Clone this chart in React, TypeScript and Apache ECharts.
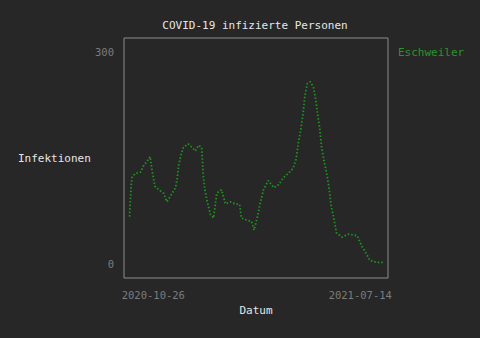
import React, { useEffect, useRef } from "react";
import * as echarts from "echarts";

const title = "COVID-19 infizierte Personen";
const seriesName = "Eschweiler";
const yAxisName = "Infektionen";
const xAxisName = "Datum";
const xTickLabels = ["2020-10-26", "2021-07-14"];
const yTickValues = [0, 300];

const dates = [
  "2020-09-26", "2020-09-27", "2020-09-28", "2020-09-29", "2020-10-03", "2020-10-10",
  "2020-10-14", "2020-10-18", "2020-10-22", "2020-10-24", "2020-10-28", "2020-11-02",
  "2020-11-08", "2020-11-12", "2020-11-16", "2020-11-23", "2020-11-25", "2020-11-27",
  "2020-11-30", "2020-12-03", "2020-12-09", "2020-12-14", "2020-12-18", "2020-12-22",
  "2020-12-26", "2020-12-27", "2020-12-28", "2020-12-30", "2021-01-02", "2021-01-06",
  "2021-01-10", "2021-01-14", "2021-01-20", "2021-01-25", "2021-01-31", "2021-02-06",
  "2021-02-12", "2021-02-14", "2021-02-21", "2021-02-27", "2021-03-02", "2021-03-06",
  "2021-03-10", "2021-03-14", "2021-03-20", "2021-03-27", "2021-04-02", "2021-04-08",
  "2021-04-14", "2021-04-20", "2021-04-24", "2021-04-27", "2021-04-30", "2021-05-03",
  "2021-05-05", "2021-05-08", "2021-05-12", "2021-05-16", "2021-05-19", "2021-05-21",
  "2021-05-24", "2021-05-26", "2021-05-29", "2021-06-02", "2021-06-05", "2021-06-07",
  "2021-06-11", "2021-06-14", "2021-06-21", "2021-06-29", "2021-07-10", "2021-07-16",
  "2021-07-20", "2021-07-26", "2021-08-04", "2021-08-12",
];

const infections = [
  67, 90, 110, 122, 128, 130,
  140, 145, 152, 135, 110, 105,
  100, 88, 95, 108, 120, 140,
  155, 165, 170, 165, 160, 168,
  165, 145, 125, 105, 88, 70,
  65, 100, 105, 85, 88, 85,
  84, 65, 62, 60, 48, 65,
  87, 105, 118, 108, 112, 122,
  128, 135, 148, 172, 190, 214,
  236, 255, 258, 250, 232, 214,
  191, 167, 148, 126, 105, 84,
  63, 44, 38, 42, 40, 25,
  18, 5, 2, 2,
];

const ts = (s: string) => new Date(s + "T00:00:00").getTime();
const pad = (n: number) => (n < 10 ? "0" + n : "" + n);
const fmt = (v: number) => {
  const d = new Date(v);
  return d.getFullYear() + "-" + pad(d.getMonth() + 1) + "-" + pad(d.getDate());
};

const FONT = "DejaVu Sans Mono";

export default function App() {
  const ref = useRef<HTMLDivElement>(null);
  useEffect(() => {
    if (!ref.current) return;
    const chart = echarts.init(ref.current, undefined, { renderer: "svg" });
    chart.setOption({
      animation: false,
      backgroundColor: "#272727",
      title: {
        text: title,
        left: 250,
        textAlign: "center",
        top: 15,
        textStyle: { color: "#e6e6e6", fontFamily: FONT, fontSize: 11, fontWeight: "normal" },
      },
      grid: {
        left: 124,
        right: 92,
        top: 38,
        bottom: 60,
        show: true,
        borderColor: "#8c8c8c",
        borderWidth: 1,
        backgroundColor: "transparent",
      },
      xAxis: {
        type: "value",
        min: ts("2020-09-19"),
        max: ts("2021-08-18"),
        name: xAxisName,
        nameLocation: "middle",
        nameGap: 26,
        nameTextStyle: { color: "#e6e6e6", fontFamily: FONT, fontSize: 11 },
        axisLine: { show: false },
        axisTick: { show: false },
        splitLine: { show: false },
        axisLabel: {
          customValues: xTickLabels.map(ts),
          formatter: (v: number) => fmt(v),
          color: "#7c7c7c",
          fontFamily: FONT,
          fontSize: 10.5,
          margin: 11,
        },
      },
      yAxis: {
        type: "value",
        min: -20,
        max: 320,
        axisLine: { show: false },
        axisTick: { show: false },
        splitLine: { show: false },
        axisLabel: {
          customValues: yTickValues,
          color: "#7c7c7c",
          fontFamily: FONT,
          fontSize: 10.5,
          margin: 10,
        },
      },
      graphic: [
        {
          type: "text",
          left: 18,
          top: 153,
          style: { text: yAxisName, fill: "#e6e6e6", font: `11px "${FONT}"` },
        },
        {
          type: "text",
          left: 398,
          top: 47,
          style: { text: seriesName, fill: "#2a942a", font: `11px "${FONT}"` },
        },
      ],
      series: [
        {
          name: seriesName,
          type: "line",
          data: dates.map((d, i) => [ts(d), infections[i]]),
          showSymbol: false,
          lineStyle: { color: "#1f951f", width: 1.8, type: [1.5, 2] },
        },
      ],
    });
    return () => chart.dispose();
  }, []);
  return <div ref={ref} style={{ width: 480, height: 338, position: "absolute", left: 0, top: 0 }} />;
}
